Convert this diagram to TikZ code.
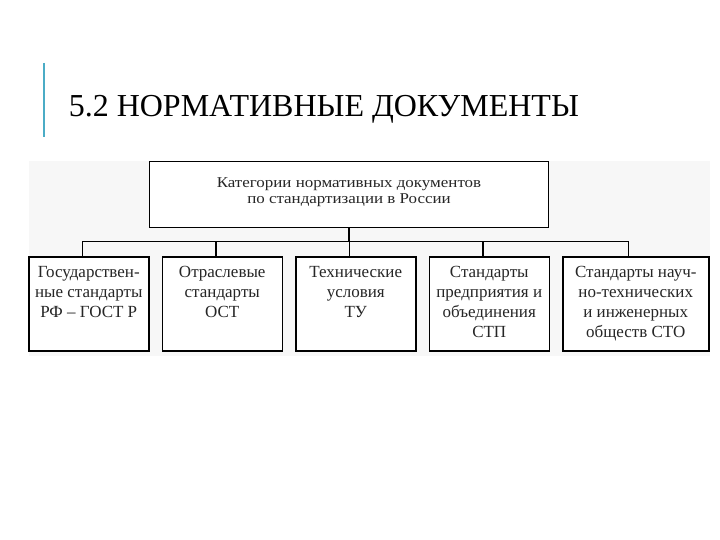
\documentclass[tikz,border=0pt]{standalone}
\usepackage{fontspec}
\setmainfont{Liberation Serif}
\newfontfamily\widefont[FakeStretch=1.13]{Liberation Serif}
\usetikzlibrary{positioning, calc}
\definecolor{accentblue}{HTML}{4BACC6}
\definecolor{panelgray}{HTML}{F7F7F7}
\newcommand{\toplines}[1]{\begin{tabular}[t]{@{}c@{}}#1\end{tabular}}

\begin{document}
\begin{tikzpicture}[x=1pt, y=-1pt, line width=1.5pt, node distance=12pt,
    catbox/.style={draw, fill=white, minimum width=120pt,
        inner xsep=3pt, inner ysep=9pt, text height=12pt, text depth=64pt,
        text=black!85, font=\fontsize{17}{20}\selectfont},
    topbox/.style={draw, fill=white, align=center, minimum width=399pt,
        minimum height=66pt, text depth=8pt, text=black!85,
        font=\widefont\fontsize{15}{15.5}\selectfont}]
    \useasboundingbox (0,0) rectangle (720,540);

    % heading
    \draw[accentblue, line width=2pt] (44,63) -- (44,137);
    \node[anchor=base west, inner sep=0pt, font=\fontsize{32}{36}\selectfont] (title) at (68,117) {5.2 НОРМАТИВНЫЕ ДОКУМЕНТЫ};

    % scheme
    \fill[panelgray] (29,161) rectangle (710,356);
    \node[topbox] (cats) at (349,194.5) {Категории нормативных документов\\по стандартизации в России};

    \node[catbox, anchor=north west] (gost) at (28,256) {\toplines{Государствен-\\ные стандарты\\РФ – ГОСТ Р}};
    \node[catbox, right=of gost] (ost) {\toplines{Отраслевые\\стандарты\\ОСТ}};
    \node[catbox, right=of ost] (tu) {\toplines{Технические\\условия\\ТУ}};
    \node[catbox, right=of tu] (stp) {\toplines{Стандарты\\предприятия и\\объединения\\СТП}};
    \node[catbox, right=of stp, minimum width=146pt] (sto) {\toplines{Стандарты науч-\\но-технических\\и инженерных\\обществ СТО}};

    \coordinate (bus) at ($(cats.south)+(0,13)$);
    \draw (cats.south) -- (bus);
    \foreach \b in {gost,ost,tu,stp,sto}
        \coordinate (\b-in) at ($(\b.north west)!0.45!(\b.north east)$);
    \draw (gost-in |- bus) -- (sto-in |- bus);
    \foreach \b in {gost,ost,tu,stp,sto}
        \draw (\b-in |- bus) -- (\b-in);
\end{tikzpicture}
\end{document}
